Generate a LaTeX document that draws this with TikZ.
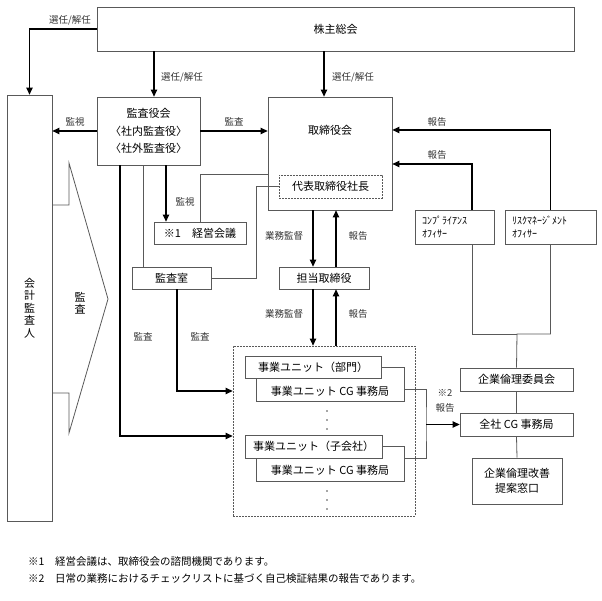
\documentclass[tikz,border=0pt]{standalone}
\usepackage{fontspec}
\setmainfont{Noto Sans CJK JP}
\usepackage{tikz}
\usetikzlibrary{arrows.meta}
\usetikzlibrary{positioning}

\begin{document}
\begin{tikzpicture}[
    x=1pt, y=-1pt,
    orgBox/.style={
        rectangle, draw=black!65, fill=white, line width=0.8pt,
        inner sep=0pt,
        font=\fontsize{11}{13}\selectfont,
        align=center
    },
    dashBox/.style={orgBox, dash pattern=on 1.6pt off 1.4pt},
    boxText/.style={font=\fontsize{11}{13}\selectfont, inner sep=0pt, align=center},
    plainLine/.style={draw=black!65, line width=0.8pt},
    arrowLine/.style={draw=black, line width=1.2pt, -{Triangle[length=7pt,width=6.5pt]}},
    edgeLabel/.style={font=\fontsize{9.5}{11}\selectfont, text=black!80, inner sep=1pt, align=center}
]
\useasboundingbox (0,0) rectangle (602,601);

% top and left
\node[orgBox, minimum width=477pt, minimum height=44pt] (soukai) at (335.5,29) {株主総会};
\node[orgBox, minimum width=45pt, minimum height=426pt, font=\fontsize{11}{12.5}\selectfont] (kaikei) at (29.5,308) {会\\計\\監\\査\\人};
\draw[plainLine] (kaikei.east |- 0,205) -- (69,205) -- (69,163) -- (108,299) -- (69,433) -- (69,393) -- (kaikei.east |- 0,393);
\node[boxText, font=\fontsize{11}{12.5}\selectfont] (kansaArrowText) at (80,303) {監\\査};

% boards
\node[orgBox, minimum width=103pt, minimum height=68pt, font=\fontsize{11}{17.5}\selectfont] (kansayaku) at (148.5,131) {監査役会\\〈社内監査役〉\\〈社外監査役〉};
\node[orgBox, minimum width=124pt, minimum height=113pt] (torishimari) at (330,153.5) {};
\node[boxText] (torishimariText) at (330,130) {取締役会};
\node[dashBox, minimum width=103pt, minimum height=23pt] (daihyo) at (330.5,186.5) {代表取締役社長};
\node[orgBox, minimum width=92pt, minimum height=22pt] (keiei) at (200,233) {※1　経営会議};
\node[orgBox, minimum width=79pt, minimum height=22pt] (kansashitsu) at (171.5,278) {監査室};
\node[orgBox, minimum width=90pt, minimum height=22pt] (tanto) at (324,278) {担当取締役};

% officers and ethics
\node[orgBox, minimum width=79pt, minimum height=34pt, text width=65pt, align=left, font=\fontsize{10}{13}\selectfont] (comp) at (454.5,227) {ｺﾝﾌﾟﾗｲｱﾝｽ\\ｵﾌｨｻｰ};
\node[orgBox, minimum width=91pt, minimum height=34pt, text width=77pt, align=left, font=\fontsize{10}{13}\selectfont] (risk) at (550.5,227) {ﾘｽｸﾏﾈｰｼﾞﾒﾝﾄ\\ｵﾌｨｻｰ};
\node[orgBox, minimum width=113pt, minimum height=23pt] (rinri) at (516.5,379.5) {企業倫理委員会};
\node[orgBox, minimum width=113pt, minimum height=23pt] (zensha) at (516.5,424.5) {全社 CG 事務局};
\node[orgBox, minimum width=90pt, minimum height=46pt, font=\fontsize{11}{15}\selectfont] (teian) at (517,481) {企業倫理改善\\提案窓口};

% business units
\node[dashBox, minimum width=182pt, minimum height=170pt] (units) at (324,431) {};
\node[orgBox, minimum width=148pt, minimum height=34pt] (cgA) at (330,384) {};
\node[boxText] (cgAText) at (330,391) {事業ユニット CG 事務局};
\node[orgBox, minimum width=136pt, minimum height=22pt] (unitA) at (313,367) {事業ユニット（部門）};
\node[orgBox, minimum width=148pt, minimum height=35pt] (cgB) at (330,463.5) {};
\node[boxText] (cgBText) at (330,470) {事業ユニット CG 事務局};
\node[orgBox, minimum width=137pt, minimum height=23pt] (unitB) at (313.5,446.5) {事業ユニット（子会社）};
\fill[black!70] (327,411) circle (0.9pt) (327,420) circle (0.9pt) (327,429) circle (0.9pt)
                (327,491) circle (0.9pt) (327,500) circle (0.9pt) (327,509) circle (0.9pt);

% connectors
\draw[arrowLine] (soukai.west) -| (kaikei.north);
\draw[arrowLine] ([xshift=5.5pt]kansayaku.north |- soukai.south) -- ([xshift=5.5pt]kansayaku.north);
\draw[arrowLine] ([xshift=-6pt]torishimari.north |- soukai.south) -- ([xshift=-6pt]torishimari.north);
\draw[arrowLine] (kansayaku.west) -- (kansayaku.west -| kaikei.east);
\draw[arrowLine] (kansayaku.east) -- (kansayaku.east -| torishimari.west);
\draw[arrowLine] (risk.north) |- ([yshift=23.5pt]torishimari.east);
\draw[arrowLine] ([xshift=17.5pt]comp.north) |- ([yshift=-10.5pt]torishimari.east);

\coordinate (ethicsJoin) at (517,334);
\draw[plainLine] ([xshift=17.5pt]comp.south) |- (ethicsJoin);
\draw[plainLine] (risk.south) |- (ethicsJoin) -- (rinri.north);
\draw[plainLine] (rinri.south) -- (zensha.north);
\draw[plainLine] (zensha.south) -- (teian.north);

\coordinate (reportJoin) at (426,424.5);
\draw[plainLine] ([yshift=-5pt]cgA.east) -| (reportJoin) |- ([yshift=5.5pt]cgB.east);
\draw[arrowLine] (reportJoin) -- (zensha.west);

\draw[arrowLine] ([xshift=-28.5pt]kansayaku.south) |- ([yshift=-5pt]units.west);
\draw[plainLine] ([xshift=-5.5pt]kansayaku.south) -- ([xshift=-28.5pt]kansashitsu.north);
\draw[arrowLine] ([xshift=17.5pt]kansayaku.south) -- ([xshift=-34pt]keiei.north);
\draw[plainLine] (keiei.north) |- ([yshift=-20.5pt]torishimari.west);
\draw[plainLine] (kansashitsu.east) -- ++(45,0) |- (daihyo.west);
\draw[arrowLine] ([xshift=5.5pt]kansashitsu.south) |- ([yshift=40pt]units.west);

\draw[arrowLine] ([xshift=-17pt]torishimari.south) -- ([xshift=-11pt]tanto.north);
\draw[arrowLine] ([xshift=12pt]tanto.north) -- ([xshift=6pt]torishimari.south);
\draw[arrowLine] ([xshift=-11pt]tanto.south) -- ([xshift=-11pt]units.north);
\draw[arrowLine] ([xshift=12pt]units.north) -- ([xshift=12pt]tanto.south);

% labels
\node[edgeLabel] (lblSenninA) at (70,20) {選任/解任};
\node[edgeLabel] (lblSenninB) at (182,77) {選任/解任};
\node[edgeLabel] (lblSenninC) at (353,77) {選任/解任};
\node[edgeLabel] (lblKanshiA) at (75,122) {監視};
\node[edgeLabel] (lblKansaA) at (234,122) {監査};
\node[edgeLabel] (lblHoukokuA) at (437,122) {報告};
\node[edgeLabel] (lblHoukokuB) at (437,155) {報告};
\node[edgeLabel] (lblKanshiB) at (185,202) {監視};
\node[edgeLabel] (lblGyomuA) at (284,236) {業務監督};
\node[edgeLabel] (lblHoukokuC) at (358,236) {報告};
\node[edgeLabel] (lblGyomuB) at (284,314) {業務監督};
\node[edgeLabel] (lblHoukokuD) at (358,314) {報告};
\node[edgeLabel] (lblKansaB) at (143,337) {監査};
\node[edgeLabel] (lblKansaC) at (200,337) {監査};
\node[edgeLabel, font=\fontsize{9.5}{15.5}\selectfont] (lblHoukokuE) at (445,401) {※2\\報告};

% notes
\node[anchor=west, inner sep=0pt, align=left, font=\fontsize{10.5}{16.5}\selectfont] (notes) at (28,570) {※1　経営会議は、取締役会の諮問機関であります。\\※2　日常の業務におけるチェックリストに基づく自己検証結果の報告であります。};
\end{tikzpicture}
\end{document}
